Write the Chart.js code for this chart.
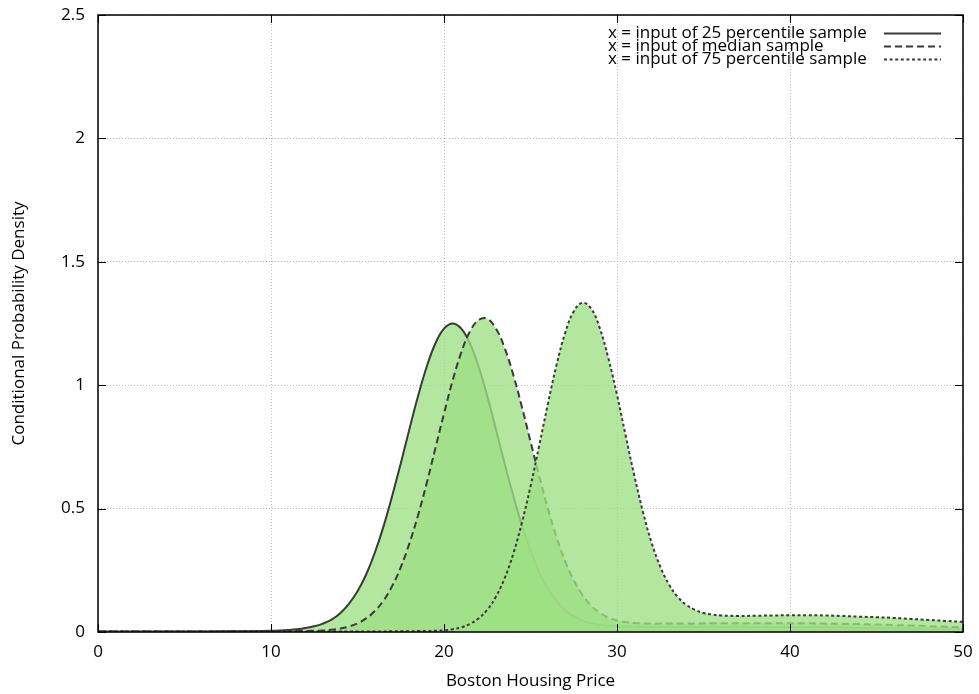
<!DOCTYPE html>
<html>
<head>
<meta charset="utf-8">
<script src="https://cdn.jsdelivr.net/npm/chart.js@4.4.1/dist/chart.umd.min.js"></script>
<style>
  html, body { margin: 0; padding: 0; background: #fff; }
  canvas { display: block; }
</style>
</head>
<body>
<canvas id="chart" width="979" height="694"></canvas>
<script>
// Boston housing price grid (finer spacing where the densities change quickly)
const prices = [
  0, 1, 2, 3, 4, 5, 6, 7, 8, 9,
  10, 10.5, 11, 11.5, 12, 12.5, 13, 13.5, 14, 14.5, 15, 15.5, 16, 16.5, 17, 17.5,
  18, 18.5, 19, 19.5, 20, 20.5, 21, 21.5, 22, 22.5, 23, 23.5, 24, 24.5, 25, 25.5,
  26, 26.5, 27, 27.5, 28, 28.5, 29, 29.5, 30, 30.5, 31, 31.5, 32, 32.5, 33, 33.5,
  34, 34.5, 35, 35.5, 36,
  37, 38, 39, 40, 41, 42, 43, 44, 45, 46, 47, 48, 49, 50
];

// Conditional density given the 25th-percentile input
const densityQ25 = [
  0.002, 0.002, 0.002, 0.002, 0.002, 0.002, 0.002, 0.003, 0.003, 0.004,
  0.005, 0.006, 0.008, 0.011, 0.016, 0.023, 0.034, 0.050, 0.076, 0.114, 0.165, 0.233, 0.321, 0.427, 0.550, 0.683,
  0.822, 0.956, 1.075, 1.169, 1.229, 1.250, 1.229, 1.169, 1.075, 0.956, 0.822, 0.684, 0.553, 0.433, 0.329, 0.243,
  0.176, 0.126, 0.088, 0.063, 0.046, 0.035, 0.029, 0.025, 0.023, 0.022, 0.022, 0.021, 0.021, 0.021, 0.021, 0.021,
  0.021, 0.021, 0.021, 0.021, 0.021,
  0.021, 0.021, 0.020, 0.020, 0.019, 0.019, 0.018, 0.017, 0.016, 0.015, 0.014, 0.013, 0.012, 0.011
];

// Conditional density given the median input
const densityMedian = [
  0.002, 0.002, 0.002, 0.002, 0.002, 0.002, 0.002, 0.002, 0.003, 0.003,
  0.003, 0.003, 0.003, 0.004, 0.004, 0.005, 0.006, 0.009, 0.014, 0.022, 0.035, 0.055, 0.085, 0.127, 0.186, 0.262,
  0.359, 0.473, 0.603, 0.744, 0.885, 1.019, 1.133, 1.218, 1.264, 1.269, 1.230, 1.152, 1.043, 0.913, 0.772, 0.633,
  0.501, 0.385, 0.287, 0.210, 0.150, 0.107, 0.078, 0.058, 0.047, 0.040, 0.036, 0.035, 0.034, 0.034, 0.034, 0.034,
  0.034, 0.034, 0.035, 0.035, 0.035,
  0.035, 0.035, 0.035, 0.035, 0.035, 0.034, 0.033, 0.032, 0.030, 0.028, 0.026, 0.024, 0.021, 0.019
];

// Conditional density given the 75th-percentile input
const densityQ75 = [
  0.002, 0.002, 0.002, 0.002, 0.002, 0.002, 0.002, 0.002, 0.002, 0.002,
  0.002, 0.002, 0.002, 0.002, 0.002, 0.002, 0.002, 0.002, 0.002, 0.002, 0.002, 0.002, 0.002, 0.002, 0.003, 0.003,
  0.003, 0.004, 0.004, 0.005, 0.007, 0.011, 0.019, 0.033, 0.055, 0.090, 0.143, 0.217, 0.316, 0.442, 0.590, 0.754,
  0.923, 1.081, 1.211, 1.299, 1.334, 1.311, 1.232, 1.109, 0.961, 0.796, 0.634, 0.487, 0.362, 0.265, 0.193, 0.143,
  0.110, 0.090, 0.077, 0.071, 0.067,
  0.065, 0.066, 0.067, 0.068, 0.068, 0.067, 0.065, 0.062, 0.060, 0.057, 0.053, 0.049, 0.045, 0.041
];

const seriesLabels = [
  'x = input of 25 percentile sample',
  'x = input of median sample',
  'x = input of 75 percentile sample'
];

const xTickValues = [0, 10, 20, 30, 40, 50];
const yTickValues = [0, 0.5, 1, 1.5, 2, 2.5];

const FONT = '"Open Sans", "DejaVu Sans", sans-serif';
const LINE = '#3a3a3a';
const FILL = 'rgba(158, 224, 132, 0.78)';
const DASHES = [[], [7, 4], [3, 2.6]];

const toPoints = (ys) => prices.map((p, i) => ({ x: p, y: ys[i] }));

function curve(i, ys, order) {
  return {
    label: seriesLabels[i],
    data: toPoints(ys),
    borderColor: LINE,
    borderWidth: 2,
    borderDash: DASHES[i],
    backgroundColor: FILL,
    fill: 'origin',
    pointRadius: 0,
    tension: 0.4,
    order: order
  };
}

// Inward ticks on all four sides, the frame, and the key in the upper right
const frameAndKey = {
  id: 'frameAndKey',
  afterDatasetsDraw(chart) {
    const { ctx, chartArea: a, scales: { x, y } } = chart;
    const tl = 8;
    ctx.save();
    ctx.strokeStyle = '#000';
    ctx.lineWidth = 1;
    ctx.setLineDash([]);
    ctx.beginPath();
    xTickValues.forEach(v => {
      const px = Math.round(x.getPixelForValue(v)) + 0.5;
      ctx.moveTo(px, a.bottom); ctx.lineTo(px, a.bottom - tl);
      ctx.moveTo(px, a.top); ctx.lineTo(px, a.top + tl);
    });
    yTickValues.forEach(v => {
      const py = Math.round(y.getPixelForValue(v)) + 0.5;
      ctx.moveTo(a.left, py); ctx.lineTo(a.left + tl, py);
      ctx.moveTo(a.right, py); ctx.lineTo(a.right - tl, py);
    });
    ctx.stroke();
    ctx.lineWidth = 1.5;
    ctx.strokeRect(a.left, a.top, a.right - a.left, a.bottom - a.top);
    ctx.restore();
  },
  afterDraw(chart) {
    const { ctx, chartArea: a } = chart;
    ctx.save();
    ctx.font = '17px ' + FONT;
    ctx.fillStyle = '#000';
    ctx.textBaseline = 'middle';
    ctx.textAlign = 'left';
    seriesLabels.forEach((label, i) => {
      const cy = a.top + 18 + i * 13;
      ctx.fillText(label, a.right - 355, cy);
      ctx.beginPath();
      ctx.strokeStyle = LINE;
      ctx.lineWidth = 2;
      ctx.setLineDash(DASHES[i]);
      ctx.moveTo(a.right - 79, cy + 0.5);
      ctx.lineTo(a.right - 22, cy + 0.5);
      ctx.stroke();
    });
    ctx.restore();
  }
};

new Chart(document.getElementById('chart'), {
  type: 'line',
  data: {
    datasets: [
      curve(0, densityQ25, 3),
      curve(1, densityMedian, 2),
      curve(2, densityQ75, 1)
    ]
  },
  options: {
    responsive: false,
    animation: false,
    devicePixelRatio: 1,
    layout: { padding: { top: 15, right: 16, left: 0, bottom: 0 } },
    plugins: {
      legend: { display: false },
      tooltip: { enabled: false },
      filler: { drawTime: 'beforeDatasetDraw' }
    },
    scales: {
      x: {
        type: 'linear',
        min: 0,
        max: 50,
        afterBuildTicks: (s) => { s.ticks = xTickValues.map(v => ({ value: v })); },
        afterFit: (s) => { s.height = 62; s.paddingLeft = 0; s.paddingRight = 0; },
        ticks: {
          color: '#000', font: { family: FONT, size: 17 }, padding: 10, maxRotation: 0,
          callback: (v) => String(v)
        },
        grid: { color: '#b8b8b8', lineWidth: 1, drawTicks: false, tickLength: 0 },
        border: { display: false, dash: [1, 2] },
        title: {
          display: true,
          text: 'Boston Housing Price',
          color: '#000',
          font: { family: FONT, size: 17 },
          padding: { top: 4, bottom: 3 }
        }
      },
      y: {
        type: 'linear',
        min: 0,
        max: 2.5,
        afterBuildTicks: (s) => { s.ticks = yTickValues.map(v => ({ value: v })); },
        afterFit: (s) => { s.width = 98; s.paddingTop = 0; s.paddingBottom = 0; },
        ticks: {
          color: '#000', font: { family: FONT, size: 17 }, padding: 13,
          callback: (v) => String(v)
        },
        grid: { color: '#b8b8b8', lineWidth: 1, drawTicks: false, tickLength: 0 },
        border: { display: false, dash: [1, 2] },
        title: {
          display: true,
          text: 'Conditional Probability Density',
          color: '#000',
          font: { family: FONT, size: 17 },
          padding: { top: 9, bottom: 4 }
        }
      }
    }
  },
  plugins: [frameAndKey]
});
</script>
</body>
</html>
